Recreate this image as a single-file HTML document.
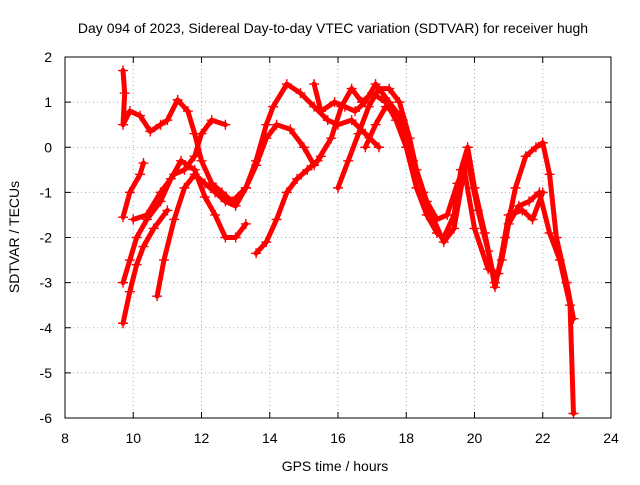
<!DOCTYPE html>
<html><head><meta charset="utf-8"><style>
body{margin:0;background:#fff;font-family:"Liberation Sans",sans-serif}
svg text{font-family:"Liberation Sans",sans-serif;font-size:14px;fill:#000}
</style></head><body>
<svg id="chart" width="640" height="480" xmlns="http://www.w3.org/2000/svg">
<rect width="640" height="480" fill="#fff"/>
<text x="333" y="33" text-anchor="middle">Day 094 of 2023, Sidereal Day-to-day VTEC variation (SDTVAR) for receiver hugh</text>
<g id="grid"></g>
<g id="ticks"></g>
<g id="series"></g>
<rect x="65" y="57" width="546" height="361" fill="none" stroke="#000"/>
<text x="335" y="471" text-anchor="middle">GPS time / hours</text>
<text transform="translate(19,237) rotate(-90)" text-anchor="middle">SDTVAR / TECUs</text>
</svg>
<script>
const xTicks=[8,10,12,14,16,18,20,22,24];
const yTicks=[2,1,0,-1,-2,-3,-4,-5,-6];
const trackA=[[9.7,1.7],[9.75,1.2],[9.7,0.5],[9.9,0.8],[10.2,0.7],[10.5,0.35],[10.8,0.5],[11.0,0.6],[11.3,1.05],[11.6,0.8],[11.8,0.3],[12.0,-0.3],[12.3,-0.8],[12.6,-1.0],[12.9,-1.2],[13.3,-0.9],[13.6,-0.4],[13.9,0.2],[14.2,0.5],[14.6,0.4],[15.0,0.0],[15.3,-0.4],[15.5,-0.2]];
const trackB=[[9.7,-1.55],[9.9,-1.0],[10.2,-0.6],[10.3,-0.35]];
const trackB2=[[10.0,-1.6],[10.4,-1.5],[10.8,-1.0],[11.2,-0.6],[11.5,-0.5],[11.8,-0.2],[12.0,0.3],[12.3,0.6],[12.7,0.5]];
const trackC=[[9.7,-3.0],[9.9,-2.5],[10.1,-2.0],[10.4,-1.6],[10.8,-1.2],[11.1,-0.7],[11.4,-0.3],[11.8,-0.5],[12.1,-1.1],[12.4,-1.5],[12.7,-2.0],[13.0,-2.0],[13.3,-1.7]];
const trackD=[[9.7,-3.9],[9.9,-3.2],[10.1,-2.6],[10.3,-2.2],[10.6,-1.8],[11.0,-1.4]];
const trackD2=[[10.7,-3.3],[10.9,-2.5],[11.2,-1.6],[11.5,-0.9],[11.8,-0.6],[12.1,-0.8],[12.4,-1.0],[12.7,-1.2],[13.0,-1.3],[13.3,-0.9],[13.6,-0.3],[13.9,0.5],[14.1,0.9],[14.5,1.4],[14.9,1.2],[15.3,0.9],[15.7,0.6],[16.0,0.5],[16.4,0.6],[16.8,0.3],[17.2,0.0]];
const trackE=[[13.6,-2.35],[13.9,-2.1],[14.2,-1.6],[14.5,-1.0],[14.8,-0.7],[15.1,-0.5],[15.4,-0.3],[15.8,0.2],[16.1,0.9],[16.4,1.3],[16.7,1.0],[17.0,1.2],[17.4,1.0],[17.7,0.6],[18.0,0.0],[18.3,-0.9],[18.6,-1.5],[18.9,-1.9],[19.1,-2.0],[19.4,-1.5],[19.6,-0.5],[19.8,0.0],[20.0,-0.9],[20.3,-1.9],[20.6,-3.0],[20.8,-2.5],[21.0,-1.7],[21.3,-1.3],[21.6,-1.2],[21.9,-1.0],[22.2,-1.9],[22.5,-2.5],[22.8,-3.5],[22.9,-5.9]];
const trackF=[[16.0,-0.9],[16.3,-0.3],[16.6,0.3],[16.9,0.9],[17.2,1.3],[17.5,1.3],[17.8,1.0],[18.1,0.2],[18.3,-0.5],[18.6,-1.2],[18.9,-1.6],[19.2,-1.5],[19.5,-0.8],[19.8,-0.3],[20.1,-1.4],[20.4,-2.3],[20.6,-3.1],[20.9,-2.0],[21.2,-0.9],[21.5,-0.2],[21.8,0.0],[22.0,0.1],[22.2,-0.6],[22.4,-2.0],[22.7,-3.0],[22.9,-3.8]];
const trackG=[[16.8,0.0],[17.1,0.5],[17.4,0.9],[17.8,0.7],[18.2,-0.3],[18.5,-1.0],[18.8,-1.6],[19.1,-2.1],[19.4,-1.8],[19.7,-0.5],[20.0,-1.8],[20.4,-2.7],[20.7,-2.8],[21.0,-1.5],[21.4,-1.4],[21.7,-1.6],[22.0,-1.0]];
const trackH=[[15.3,1.4],[15.5,0.8],[15.9,1.0],[16.2,0.9],[16.5,0.8],[16.8,1.0],[17.1,1.4],[17.5,1.0],[17.9,0.6]];
const tracks=[trackA,trackB,trackB2,trackC,trackD,trackD2,trackE,trackF,trackG,trackH];
const X=v=>65+(v-8)*546/16, Y=v=>57+(2-v)*361/8;
const NS='http://www.w3.org/2000/svg';
const grid=document.getElementById('grid'),ticks=document.getElementById('ticks'),ser=document.getElementById('series');
function mk(tag,at,p){const e=document.createElementNS(NS,tag);for(const k in at)e.setAttribute(k,at[k]);p.appendChild(e);return e;}
xTicks.forEach(t=>{const x=X(t);
 if(t>8&&t<24){const l=mk('line',{x1:x,x2:x,y1:57,y2:418,stroke:'#aaa','stroke-dasharray':'1,3'},grid);
 
 }
 mk('line',{x1:x,x2:x,y1:418,y2:412,stroke:'#000'},ticks);mk('line',{x1:x,x2:x,y1:57,y2:63,stroke:'#000'},ticks);
 const tx=mk('text',{x:x,y:443,'text-anchor':'middle'},ticks);tx.textContent=t;
 
 });
yTicks.forEach(t=>{const y=Y(t);
 if(t<2&&t>-6){const l=mk('line',{x1:65,x2:611,y1:y,y2:y,stroke:'#aaa','stroke-dasharray':'1,3'},grid);
 
 }
 mk('line',{x1:65,x2:71,y1:y,y2:y,stroke:'#000'},ticks);mk('line',{x1:605,x2:611,y1:y,y2:y,stroke:'#000'},ticks);
 const tx=mk('text',{x:52,y:y+5,'text-anchor':'end'},ticks);tx.textContent=t;
 
 });
tracks.forEach(tr=>{
 const pl=mk('polyline',{points:tr.map(p=>X(p[0])+','+Y(p[1])).join(' '),fill:'none',stroke:'#f00','stroke-width':5,'stroke-linejoin':'round','stroke-linecap':'round'},ser);
 
 
 tr.forEach(p=>{const x=X(p[0]),y=Y(p[1]);
  const m=mk('path',{d:`M${x-5},${y}H${x+5}M${x},${y-5}V${y+5}`,stroke:'#f00','stroke-width':1.4},ser);
  
  });
});
</script>
</body></html>
